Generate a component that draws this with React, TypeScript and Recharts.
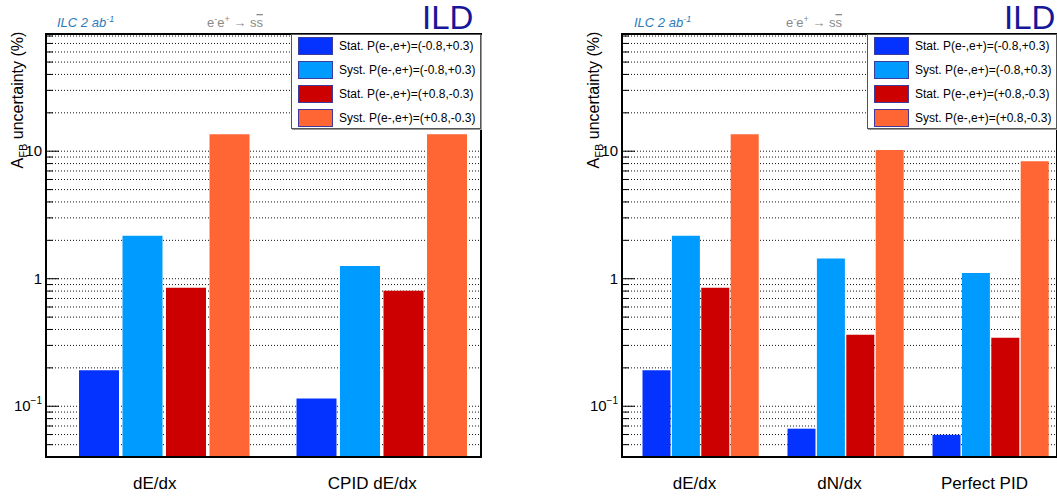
import React from 'react';
import { BarChart, Bar, XAxis, YAxis, CartesianGrid } from 'recharts';

// values (A_FB uncertainty in %)
const leftMethods = ['dE/dx', 'CPID dE/dx'];
const leftStatNeg = [0.192, 0.115];
const leftSystNeg = [2.17, 1.26];
const leftStatPos = [0.85, 0.805];
const leftSystPos = [13.6, 13.6];

const rightMethods = ['dE/dx', 'dN/dx', 'Perfect PID'];
const rightStatNeg = [0.192, 0.0667, 0.0597];
const rightSystNeg = [2.17, 1.44, 1.11];
const rightStatPos = [0.85, 0.364, 0.344];
const rightSystPos = [13.6, 10.2, 8.35];

const seriesKeys = ['statNeg', 'systNeg', 'statPos', 'systPos'];
const seriesNames = [
  'Stat. P(e-,e+)=(-0.8,+0.3)',
  'Syst. P(e-,e+)=(-0.8,+0.3)',
  'Stat. P(e-,e+)=(+0.8,-0.3)',
  'Syst. P(e-,e+)=(+0.8,-0.3)',
];
const seriesColors = ['#0433ff', '#009bff', '#cc0000', '#ff6633'];

const majorTicks = [0.1, 1, 10];
const yTicks = [
  0.04, 0.05, 0.06, 0.07, 0.08, 0.09,
  0.1, 0.2, 0.3, 0.4, 0.5, 0.6, 0.7, 0.8, 0.9,
  1, 2, 3, 4, 5, 6, 7, 8, 9,
  10, 20, 30, 40, 50, 60, 70, 80,
];

const FONT = '"Liberation Sans", Arial, Helvetica, sans-serif';

const buildRows = (methods: string[], cols: number[][]) =>
  methods.map((method, i) => {
    const row: any = { method };
    seriesKeys.forEach((k, j) => (row[k] = cols[j][i]));
    return row;
  });

const leftRows = buildRows(leftMethods, [leftStatNeg, leftSystNeg, leftStatPos, leftSystPos]);
const rightRows = buildRows(rightMethods, [rightStatNeg, rightSystNeg, rightStatPos, rightSystPos]);

const YTick = ({ x, y, payload }: any) => {
  const v = payload.value;
  const major = majorTicks.includes(v);
  return (
    <g>
      <line x1={x} x2={x + (major ? 13 : 7)} y1={y} y2={y} stroke="#000" strokeWidth={1} />
      {major && (
        <text x={x - 4} y={y + 5} textAnchor="end" fontSize={15} fontFamily={FONT} fill="#000">
          {v === 0.1 ? (
            <>
              10<tspan dy={-7} fontSize={10}>−1</tspan>
            </>
          ) : (
            String(v)
          )}
        </text>
      )}
    </g>
  );
};

const XTick = ({ x, y, payload, shift }: any) => (
  <text x={x - shift} y={y + 32} textAnchor="middle" fontSize={17} fontFamily={FONT} fill="#000">
    {payload.value}
  </text>
);

interface PanelProps {
  left: number;
  width: number;
  axisX: number; // local x of the y axis
  plotRight: number; // local x of the frame's right edge
  rows: any[];
  barSize: number;
  barGap: number;
  shift: number;
  ilcX: number;
  eeX: number;
  ildX: number;
  labelX: number;
}

const Panel = (p: PanelProps) => {
  const plotW = p.plotRight - p.axisX;
  return (
    <div style={{ position: 'absolute', left: p.left, top: 0, width: p.width, height: 499 }}>
      <BarChart
        width={p.width}
        height={499}
        data={p.rows}
        margin={{ top: 34, right: p.width - p.plotRight, left: p.axisX - 46, bottom: 0 }}
        barSize={p.barSize}
        barGap={p.barGap}
      >
        <CartesianGrid vertical={false} stroke="#111" strokeDasharray="1 2" />
        <XAxis
          dataKey="method"
          height={42}
          interval={0}
          axisLine={{ stroke: '#000', strokeWidth: 2 }}
          tickLine={false}
          tickSize={0}
          tickMargin={0}
          padding={{ left: p.shift, right: -p.shift }}
          tick={<XTick shift={p.shift} />}
        />
        <YAxis
          type="number"
          scale="log"
          domain={[0.04, 83]}
          allowDataOverflow
          ticks={yTicks}
          interval={0}
          width={46}
          axisLine={{ stroke: '#000', strokeWidth: 2 }}
          tickLine={false}
          tickSize={0}
          tickMargin={0}
          tick={<YTick />}
        />
        {seriesKeys.map((k, i) => (
          <Bar key={k} dataKey={k} name={seriesNames[i]} fill={seriesColors[i]} isAnimationActive={false} />
        ))}
      </BarChart>
      <svg
        width={p.width}
        height={499}
        style={{ position: 'absolute', left: 0, top: 0, pointerEvents: 'none', overflow: 'visible' }}
      >
        <rect x={p.axisX} y={34} width={plotW} height={423} fill="none" stroke="#000" strokeWidth={2} />
        <text x={p.ilcX} y={27} fontSize={13} fontStyle="italic" fill="#2b7bba" fontFamily={FONT}>
          ILC 2 ab<tspan dy={-5} fontSize={9}>-1</tspan>
        </text>
        <text x={p.eeX} y={27} fontSize={13} fill="#8a8a8a" fontFamily={FONT}>
          e<tspan dy={-5} fontSize={9}>-</tspan>
          <tspan dy={5}>e</tspan>
          <tspan dy={-5} fontSize={9}>+</tspan>
          <tspan dy={5}> → s</tspan>
          <tspan textDecoration="overline">s</tspan>
        </text>
        <text x={p.ildX} y={29} fontSize={33} fill="#16169a" fontFamily={FONT}>
          ILD
        </text>
        <text
          x={p.labelX}
          y={100}
          transform={`rotate(-90 ${p.labelX} 100)`}
          textAnchor="middle"
          fontSize={16}
          fill="#000"
          fontFamily={FONT}
        >
          A<tspan dy={4} fontSize={11}>FB</tspan>
          <tspan dy={-4}> uncertainty (%)</tspan>
        </text>
      </svg>
      <div
        style={{
          position: 'absolute',
          left: p.plotRight - 190,
          top: 34,
          width: 188,
          height: 93,
          border: '1px solid #555',
          boxShadow: '1px 1px 0 #999',
          background: '#fff',
          fontFamily: FONT,
          fontSize: 12,
          color: '#000',
        }}
      >
        {seriesNames.map((n, i) => (
          <div
            key={n}
            style={{ position: 'absolute', left: 6, top: 2 + i * 24, height: 17, display: 'flex', alignItems: 'center' }}
          >
            <div
              style={{
                width: 33,
                height: 16,
                background: seriesColors[i],
                border: '1px solid #3c3c9c',
                marginRight: 6,
              }}
            />
            <span style={{ whiteSpace: 'nowrap' }}>{n}</span>
          </div>
        ))}
      </div>
    </div>
  );
};

export default function App() {
  return (
    <div style={{ position: 'absolute', left: 0, top: 0, width: 1057, height: 499, background: '#fff', overflow: 'hidden' }}>
      <Panel
        left={0}
        width={530}
        axisX={46}
        plotRight={481}
        rows={leftRows}
        barSize={40}
        barGap={3.5}
        shift={9}
        ilcX={57}
        eeX={207}
        ildX={422}
        labelX={23}
      />
      <Panel
        left={530}
        width={527}
        axisX={92}
        plotRight={527}
        rows={rightRows}
        barSize={28}
        barGap={1.4}
        shift={6.5}
        ilcX={104}
        eeX={256}
        ildX={474}
        labelX={69}
      />
    </div>
  );
}
